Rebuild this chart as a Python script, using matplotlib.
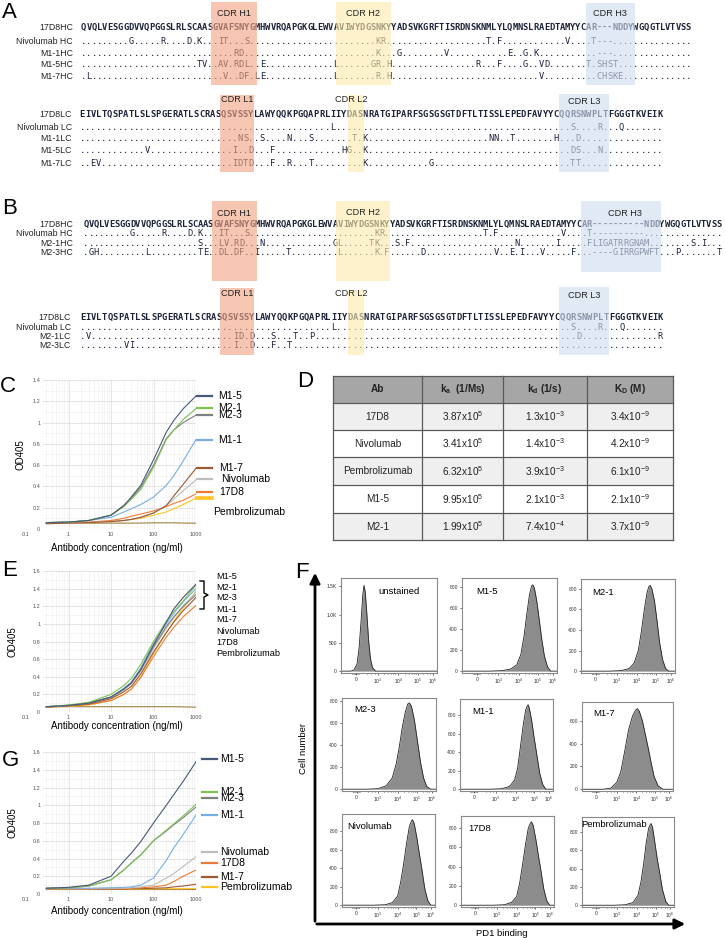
import matplotlib
matplotlib.use("Agg")
import matplotlib.pyplot as plt
from matplotlib.patches import Rectangle
from matplotlib.lines import Line2D
import numpy as np

plt.rcParams['font.family'] = ['Liberation Sans', 'DejaVu Sans']
plt.rcParams['mathtext.fontset'] = 'custom'
plt.rcParams['mathtext.rm'] = 'Liberation Sans'
plt.rcParams['mathtext.it'] = 'Liberation Sans:italic'
plt.rcParams['mathtext.bf'] = 'Liberation Sans:bold'

# ---- data: sequences ------------------------------------------------------
HC_17D8 = ("QVQLVESGGDVVQPGGSLRLSCAASGVAFSNYGMHWVRQAPGKGLEWVAVIWYDGSNKYY"
           "ADSVKGRFTISRDNSKNMLYLQMNSLRAEDTAMYYCAR---NDDYWGQGTLVTVSS")
HC_17D8_B = HC_17D8.replace("AR---", "AR----------")
LC_17D8 = ("EIVLTQSPATLSLSPGERATLSCRASQSVSSYLAWYQQKPGQAPRLIIYDASNRATGIPA"
           "RFSGSGSGTDFTLTISSLEPEDFAVYYCQQRSNWPLTFGGGTKVEIK")

# substitutions vs 17D8: {position: letters}
A_HC = [("Nivolumab HC", {9: "G", 15: "R", 20: "D", 22: "K", 26: "IT", 31: "S", 56: "KR",
                          77: "T", 79: "F", 92: "V", 97: "T---"}),
        ("M1-1HC", {29: "RD", 56: "K", 60: "G", 69: "V", 81: "E", 84: "G", 86: "K", 98: "---"}),
        ("M1-5HC", {22: "TV", 26: "AV", 29: "RDL", 34: "E", 48: "L", 55: "GR", 58: "H", 75: "R",
                    79: "F", 84: "G", 87: "VD", 96: "T", 98: "SHST"}),
        ("M1-7HC", {1: "L", 27: "V", 30: "DF", 33: "LE", 48: "L", 56: "R", 58: "H", 87: "V",
                    98: "CHSKE"})]
A_LC = [("Nivolumab LC", {46: "L", 90: "S", 95: "R", 99: "Q"}),
        ("M1-1LC", {29: "NS", 33: "S", 38: "N", 42: "S", 50: "T", 52: "K", 75: "NN", 79: "T",
                    87: "H", 91: "D"}),
        ("M1-5LC", {12: "V", 28: "I", 31: "D", 35: "F", 48: "HG", 52: "K", 90: "DS", 95: "N"}),
        ("M1-7LC", {2: "EV", 28: "IDTD", 35: "F", 38: "R", 42: "T", 52: "K", 64: "G", 90: "TT"})]
B_HC = [("Nivolumab HC", {9: "G", 15: "R", 20: "D", 22: "K", 26: "IT", 31: "S", 56: "KR",
                          77: "T", 79: "F", 92: "V", 97: "T----------"}),
        ("M2-1HC", {22: "S", 26: "LV", 29: "RD", 34: "N", 48: "GL", 55: "TK", 60: "S", 62: "F",
                    83: "N", 91: "I", 97: "FLIGATRRGNAM", 117: "S", 119: "I"}),
        ("M2-3HC", {1: "GH", 12: "L", 22: "TE", 26: "DL", 29: "DF", 33: "I", 39: "T", 49: "L",
                    56: "K", 58: "F", 65: "D", 79: "V", 82: "E", 84: "I", 88: "V", 94: "F",
                    98: "----GIRRGPWFT", 114: "P", 122: "T"})]
B_LC = [("Nivolumab LC", {46: "L", 90: "S", 95: "R", 99: "Q"}),
        ("M2-1LC", {1: "V", 28: "ID", 31: "D", 35: "S", 39: "T", 42: "P", 91: "D", 106: "R"}),
        ("M2-3LC", {8: "VI", 28: "I", 31: "D", 35: "F", 38: "T"})]

# ---- data: ELISA curves (OD405 vs ng/ml) ---------------------------------
CONC = [0.3, 1, 3, 10, 20, 30, 50, 100, 200, 300, 500, 1000]
C_OD = {
    "M1-5":          [0.06, 0.065, 0.08, 0.13, 0.22, 0.30, 0.41, 0.65, 0.91, 1.02, 1.13, 1.25],
    "M2-1":          [0.06, 0.065, 0.08, 0.13, 0.21, 0.28, 0.37, 0.58, 0.84, 0.93, 1.03, 1.13],
    "M2-3":          [0.06, 0.065, 0.08, 0.13, 0.22, 0.29, 0.39, 0.60, 0.85, 0.93, 1.00, 1.07],
    "M1-1":          [0.06, 0.065, 0.08, 0.11, 0.16, 0.19, 0.23, 0.30, 0.41, 0.50, 0.64, 0.84],
    "M1-7":          [0.05, 0.055, 0.06, 0.07, 0.08, 0.09, 0.11, 0.15, 0.22, 0.31, 0.42, 0.57],
    "Nivolumab":     [0.05, 0.055, 0.06, 0.07, 0.08, 0.09, 0.11, 0.15, 0.22, 0.28, 0.36, 0.46],
    "17D8":          [0.055, 0.06, 0.065, 0.08, 0.10, 0.12, 0.14, 0.17, 0.21, 0.24, 0.27, 0.33],
    "Pembrolizumab": [0.05, 0.055, 0.06, 0.07, 0.08, 0.09, 0.10, 0.13, 0.16, 0.19, 0.23, 0.29],
}
C_CTRL = [0.055, 0.055, 0.055, 0.055, 0.055, 0.055, 0.056, 0.058, 0.058, 0.058, 0.056, 0.055]
E_OD = {
    "M1-5":          [0.06, 0.075, 0.10, 0.17, 0.26, 0.33, 0.48, 0.76, 1.02, 1.17, 1.30, 1.45],
    "M2-1":          [0.06, 0.08, 0.11, 0.20, 0.30, 0.38, 0.54, 0.80, 1.03, 1.14, 1.26, 1.44],
    "M2-3":          [0.06, 0.075, 0.10, 0.17, 0.26, 0.33, 0.48, 0.74, 0.97, 1.08, 1.20, 1.33],
    "M1-1":          [0.06, 0.075, 0.10, 0.17, 0.27, 0.34, 0.50, 0.78, 1.00, 1.12, 1.25, 1.40],
    "M1-7":          [0.055, 0.07, 0.09, 0.15, 0.23, 0.29, 0.43, 0.68, 0.90, 1.02, 1.15, 1.30],
    "Nivolumab":     [0.06, 0.075, 0.10, 0.16, 0.25, 0.32, 0.46, 0.72, 0.95, 1.07, 1.20, 1.36],
    "17D8":          [0.055, 0.07, 0.085, 0.13, 0.20, 0.26, 0.39, 0.63, 0.85, 0.96, 1.08, 1.21],
    "Pembrolizumab": [0.055, 0.065, 0.08, 0.13, 0.20, 0.26, 0.40, 0.66, 0.90, 1.03, 1.18, 1.37],
}
E_CTRL = [0.06, 0.06, 0.06, 0.06, 0.06, 0.06, 0.06, 0.06, 0.06, 0.06, 0.058, 0.055]
G_OD = {
    "M1-5":          [0.065, 0.075, 0.10, 0.20, 0.37, 0.46, 0.59, 0.80, 1.00, 1.12, 1.27, 1.49],
    "M2-1":          [0.065, 0.07, 0.09, 0.16, 0.27, 0.35, 0.44, 0.60, 0.72, 0.79, 0.88, 1.01],
    "M2-3":          [0.065, 0.07, 0.09, 0.16, 0.27, 0.35, 0.44, 0.60, 0.71, 0.78, 0.86, 0.98],
    "M1-1":          [0.06, 0.065, 0.065, 0.07, 0.075, 0.08, 0.10, 0.18, 0.38, 0.52, 0.67, 0.89],
    "Nivolumab":     [0.06, 0.06, 0.06, 0.065, 0.065, 0.07, 0.08, 0.10, 0.18, 0.23, 0.31, 0.42],
    "17D8":          [0.055, 0.055, 0.055, 0.06, 0.06, 0.065, 0.07, 0.08, 0.10, 0.14, 0.20, 0.27],
    "M1-7":          [0.055, 0.055, 0.055, 0.055, 0.055, 0.06, 0.06, 0.065, 0.07, 0.08, 0.09, 0.11],
    "Pembrolizumab": [0.055, 0.055, 0.055, 0.055, 0.055, 0.055, 0.055, 0.058, 0.06, 0.06, 0.06, 0.062],
}
G_CTRL = [0.055, 0.055, 0.055, 0.055, 0.055, 0.055, 0.055, 0.055, 0.055, 0.055, 0.055, 0.055]

COLORS = {"M1-5": "#4a5877", "M2-1": "#7cc255", "M2-3": "#7f7f7f", "M1-1": "#79aee3",
          "M1-7": "#9c5a34", "Nivolumab": "#bdbdbd", "17D8": "#ee7b35",
          "Pembrolizumab": "#ffc326"}
CTRL_COLOR = "#a08040"

# ---- data: kinetics table ------------------------------------------------
TABLE_HEAD = ["Ab", r"k$_\mathbf{a}$  (1/Ms)", r"k$_\mathbf{d}$ (1/s)", r"K$_\mathbf{D}$ (M)"]
TABLE_AB = ["17D8", "Nivolumab", "Pembrolizumab", "M1-5", "M2-1"]
TABLE_KA = ["3.87x10$^{5}$", "3.41x10$^{5}$", "6.32x10$^{5}$", "9.95x10$^{5}$", "1.99x10$^{5}$"]
TABLE_KD = ["1.3x10$^{-3}$", "1.4x10$^{-3}$", "3.9x10$^{-3}$", "2.1x10$^{-3}$", "7.4x10$^{-4}$"]
TABLE_KDM = ["3.4x10$^{-9}$", "4.2x10$^{-9}$", "6.1x10$^{-9}$", "2.1x10$^{-9}$", "3.7x10$^{-9}$"]

# ---- data: flow histograms (x in log10 decades, counts) -------------------
FLOW_NAMES = ["unstained", "M1-5", "M2-1", "M2-3", "M1-1", "M1-7",
              "Nivolumab", "17D8", "Pembrolizumab"]
FLOW_X = [
    [1.7, 1.85, 2.0, 2.1, 2.2, 2.28, 2.34, 2.4, 2.48, 2.56, 2.65, 2.75, 2.9],
    [2.6, 3.2, 3.6, 3.9, 4.1, 4.25, 4.4, 4.52, 4.62, 4.68, 4.76, 4.88, 5.0, 5.12, 5.25, 5.4, 5.55],
    [2.6, 3.2, 3.6, 3.85, 4.05, 4.2, 4.35, 4.48, 4.57, 4.63, 4.72, 4.85, 4.98, 5.1, 5.25, 5.4, 5.55],
    [2.5, 3.0, 3.4, 3.7, 3.9, 4.05, 4.2, 4.35, 4.47, 4.55, 4.65, 4.8, 4.95, 5.1, 5.25, 5.4, 5.6],
    [2.7, 3.3, 3.7, 3.95, 4.1, 4.25, 4.38, 4.5, 4.57, 4.62, 4.68, 4.8, 4.92, 5.05, 5.2, 5.35, 5.5],
    [2.3, 2.7, 3.0, 3.2, 3.4, 3.6, 3.8, 3.95, 4.05, 4.15, 4.3, 4.45, 4.6, 4.75, 4.9, 5.1, 5.35],
    [2.8, 3.4, 3.75, 4.0, 4.15, 4.3, 4.45, 4.58, 4.68, 4.74, 4.82, 4.95, 5.08, 5.2, 5.35, 5.5, 5.65],
    [2.8, 3.4, 3.75, 4.0, 4.15, 4.3, 4.45, 4.58, 4.68, 4.74, 4.82, 4.95, 5.08, 5.2, 5.35, 5.5, 5.65],
    [2.8, 3.4, 3.8, 4.05, 4.2, 4.33, 4.46, 4.58, 4.66, 4.71, 4.78, 4.9, 5.02, 5.12, 5.28, 5.45, 5.6],
]
FLOW_N = [
    [0, 20, 120, 400, 900, 1350, 1520, 1400, 1000, 550, 220, 60, 0],
    [0, 5, 20, 60, 160, 330, 560, 730, 810, 822, 790, 660, 480, 300, 140, 40, 0],
    [0, 5, 25, 80, 200, 380, 600, 760, 820, 832, 800, 680, 480, 280, 110, 25, 0],
    [0, 5, 30, 100, 230, 380, 560, 700, 770, 779, 750, 620, 430, 240, 100, 25, 0],
    [0, 5, 30, 100, 230, 480, 700, 860, 900, 916, 880, 740, 560, 380, 170, 50, 0],
    [0, 10, 60, 150, 330, 520, 640, 690, 705, 680, 600, 480, 360, 230, 110, 30, 0],
    [0, 5, 30, 100, 250, 450, 680, 850, 910, 927, 890, 740, 560, 400, 180, 50, 0],
    [0, 5, 30, 90, 230, 430, 640, 800, 850, 864, 830, 690, 520, 370, 170, 45, 0],
    [0, 5, 30, 110, 260, 450, 680, 840, 880, 893, 850, 680, 500, 380, 170, 40, 0],
]
FLOW_YMAX = [1650, 887, 894, 824, 978, 763, 989, 925, 964]
FLOW_YTICKS = [[0, 500, 1000, 1500], [0, 200, 400, 600, 800], [0, 200, 400, 600, 800],
               [0, 200, 400, 600, 800], [0, 200, 400, 600, 800], [0, 200, 400, 600],
               [0, 200, 400, 600, 800], [0, 200, 400, 600, 800], [0, 200, 400, 600, 800]]
FLOW_XTICKS = [1.95, 3.0, 4.0, 4.93, 5.66]
FLOW_XLABELS = ["0", "$10^3$", "$10^4$", "$10^5$", "$10^6$"]

# ---- figure helpers (pixel coords, origin top-left) ----------------------
W, H = 726, 938
fig = plt.figure(figsize=(W / 100, H / 100), dpi=100)


def fx(x):
    return x / W


def fy(y):
    return 1 - y / H


def ftext(x, y, s, **kw):
    return fig.text(fx(x), fy(y), s, **kw)


def fbox(x0, y0, x1, y1, **kw):
    r = Rectangle((fx(x0), fy(y1)), (x1 - x0) / W, (y1 - y0) / H,
                  transform=fig.transFigure, **kw)
    fig.add_artist(r)
    return r


def fline(xs, ys, **kw):
    fig.add_artist(Line2D([fx(x) for x in xs], [fy(y) for y in ys],
                          transform=fig.transFigure, **kw))


def faxes(x0, y0, x1, y1):
    return fig.add_axes([fx(x0), fy(y1), (x1 - x0) / W, (y1 - y0) / H])


def variant(ref, subs):
    s = ["."] * len(ref)
    for pos, txt in subs.items():
        for k, ch in enumerate(txt):
            s[pos + k] = ch
    return "".join(s)


SEQ_COLOR = "#1c2238"
BOX_ALPHA = 0.62
RED_BOX, YEL_BOX, BLU_BOX = "#f1a384", "#fcebad", "#d0ddf0"


def seq_block(ref, ref_name, rows, x0, cw, ys, label_x):
    allrows = [(ref_name, ref)] + [(n, variant(ref, s)) for n, s in rows]
    for k, ((name, s), y) in enumerate(zip(allrows, ys)):
        ftext(label_x, y + 3, name, ha="right", va="baseline", fontsize=6.3, color="#222222")
        for i, ch in enumerate(s):
            ftext(x0 + (i + 0.5) * cw, y + 3.2, ch, ha="center", va="baseline",
                  family="DejaVu Sans Mono", fontsize=6.3, color=SEQ_COLOR,
                  weight="bold" if k == 0 else "normal")


def cdr(x0, y0, x1, y1, color, label, lx, ly):
    fbox(x0, y0, x1, y1, facecolor=color, edgecolor="none", alpha=BOX_ALPHA, zorder=5)
    ftext(lx, ly, label, ha="center", va="center", fontsize=6.6, color="#222222", zorder=6)


# ---- A ----------------------------------------------------------------------
ftext(2, 13, "A", fontsize=16, va="center")
seq_block(HC_17D8, "17D8HC", A_HC, 81, 5.26, [27, 41, 53, 64, 76], 73)
cdr(211, 2, 257, 85, RED_BOX, "CDR H1", 234, 13)
cdr(336, 2, 391, 85, YEL_BOX, "CDR H2", 363, 13)
cdr(586, 3, 635, 85, BLU_BOX, "CDR H3", 610, 13)
seq_block(LC_17D8, "17D8LC", A_LC, 79.3, 5.45, [114, 127, 138, 150, 163], 72)
cdr(220, 95, 254, 172, RED_BOX, "CDR L1", 237, 100)
cdr(348, 95, 364, 172, YEL_BOX, "CDR L2", 351, 100)
cdr(559, 94, 609, 172, BLU_BOX, "CDR L3", 584, 102)

# ---- B ----------------------------------------------------------------------
ftext(2, 208, "B", fontsize=16, va="center")
seq_block(HC_17D8_B, "17D8HC", B_HC, 83.3, 5.19, [224, 233, 243, 252], 73)
cdr(212, 201, 257, 281, RED_BOX, "CDR H1", 234, 214)
cdr(336, 201, 390, 281, YEL_BOX, "CDR H2", 363, 212)
cdr(581, 201, 661, 272, BLU_BOX, "CDR H3", 625, 213)
seq_block(LC_17D8, "17D8LC", B_LC, 80, 5.45, [317, 327, 336, 345], 71)
cdr(220, 288, 254, 355, RED_BOX, "CDR L1", 237, 294)
cdr(348, 290, 364, 355, YEL_BOX, "CDR L2", 351, 294)
cdr(559, 287, 609, 355, BLU_BOX, "CDR L3", 584, 295)


# ---- C, E, G: ELISA ---------------------------------------------------------
def elisa(box, od, ctrl, ymax, label_y, ylab_x):
    x0, y0, x1, y1 = box
    ax = faxes(x0, y0, x1, y1)
    ax.plot(CONC, ctrl, color=CTRL_COLOR, lw=0.8)
    for name in reversed(list(od)):
        ax.plot(CONC, od[name], color=COLORS[name], lw=0.8)
    ax.set_xscale("log")
    ax.set_xlim(0.25, 1000)
    ax.set_ylim(0, ymax)
    ax.set_xticks([1, 10, 100, 1000])
    ax.set_xticklabels(["1", "10", "100", "1000"])
    yt = np.round(np.arange(0, ymax + 0.001, 0.2), 1)
    ax.set_yticks(yt)
    ax.set_yticklabels([f"{v:g}" for v in yt])
    ax.set_yticks(np.round(np.arange(0, ymax, 0.1), 1), minor=True)
    ax.grid(which="major", color="#d9d9d9", lw=0.5)
    ax.grid(which="minor", color="#eeeeee", lw=0.4)
    ax.set_axisbelow(True)
    for s in ax.spines.values():
        s.set_visible(False)
    ax.tick_params(which="both", length=0, labelsize=4, colors="#555555", pad=2)
    ax.annotate("0.1", xy=(0.1, 0), xycoords=("data", "axes fraction"), xytext=(0, -2),
                textcoords="offset points", ha="center", va="top", fontsize=4,
                color="#555555", annotation_clip=False)
    ftext((x0 + x1) / 2 - 3, label_y, "Antibody concentration (ng/ml)", ha="center",
          va="center", fontsize=7)
    ftext(ylab_x, (y0 + y1) / 2, "OD405", rotation=90, ha="center", va="center", fontsize=7)
    return ax


ftext(0, 386, "C", fontsize=16, va="center")
elisa((43, 380, 196, 529), C_OD, C_CTRL, 1.4, 548, 20)
c_leg = [("M1-5", 396, 218), ("M2-1", 408, 218), ("M2-3", 415, 218), ("M1-1", 440, 218),
         ("M1-7", 468, 219), ("Nivolumab", 479, 221), ("17D8", 492, 219)]
for name, y, tx in c_leg:
    fline([197, 212], [y, y], color=COLORS[name], lw=1.6)
    ftext(tx, y, name, ha="left", va="center", fontsize=7.5)
fline([197, 212], [498, 498], color=COLORS["Pembrolizumab"], lw=2.6)
ftext(213, 512, "Pembrolizumab", ha="left", va="center", fontsize=7.5)

ftext(2, 570, "E", fontsize=16, va="center")
elisa((43, 571, 196, 712), E_OD, E_CTRL, 1.6, 726, 13)
for i, name in enumerate(["M1-5", "M2-1", "M2-3", "M1-1", "M1-7", "Nivolumab", "17D8",
                          "Pembrolizumab"]):
    ftext(216, 576 + 11 * i, name, ha="left", va="center", fontsize=6.6)
fline([200, 204, 204, 208, 204, 204, 200], [581, 581, 593, 595, 597, 609, 609],
      color="black", lw=1.0)

ftext(2, 760, "G", fontsize=16, va="center")
elisa((43, 752, 196, 894), G_OD, G_CTRL, 1.6, 911, 13)
g_leg = [("M1-5", 759), ("M2-1", 792), ("M2-3", 798), ("M1-1", 815), ("Nivolumab", 852),
         ("17D8", 863), ("M1-7", 877), ("Pembrolizumab", 887)]
for name, y in g_leg:
    fline([202, 217], [y, y], color=COLORS[name], lw=1.6)
    ftext(220, y, name, ha="left", va="center", fontsize=7.5)

# ---- D: table ---------------------------------------------------------------
ftext(297, 381, "D", fontsize=16, va="center")
cols = [333, 422, 503, 587, 673]
rows = [376, 403, 430, 457, 485, 513, 540]
table = [TABLE_HEAD] + [list(r) for r in zip(TABLE_AB, TABLE_KA, TABLE_KD, TABLE_KDM)]
for r in range(len(table)):
    bg = "#a6a6a6" if r == 0 else ("#efefef" if r % 2 == 1 else "white")
    fbox(cols[0], rows[r], cols[-1], rows[r + 1], facecolor=bg, edgecolor="none")
    for c in range(4):
        ftext((cols[c] + cols[c + 1]) / 2, (rows[r] + rows[r + 1]) / 2, table[r][c],
              ha="center", va="center", fontsize=7.2, color="#222222",
              weight="bold" if r == 0 else "normal")
for y in rows:
    fline([cols[0], cols[-1]], [y, y], color="#5a5a5a", lw=0.9)
for x in cols:
    fline([x, x], [rows[0], rows[-1]], color="#5a5a5a", lw=0.9)

# ---- F: flow histograms -----------------------------------------------------
ftext(295, 572, "F", fontsize=16, va="center")
flow_boxes = [(341, 578, 437, 673), (462, 578, 557, 673), (581, 579, 675, 673),
              (342, 698, 436, 791), (460, 699, 553, 791), (582, 702, 673, 791),
              (342, 814, 435, 907), (461, 816, 554, 907), (582, 817, 674, 907)]
flow_lab = [(399, 591), (487, 591), (603, 592), (365, 710), (483, 711), (604, 713),
            (370, 826), (480, 828), (614, 824)]
minor_x = list(np.linspace(1.75, 2.1, 9)) + [2.5, 2.7, 2.85, 3.3, 3.5, 3.65, 3.75, 3.85,
                                             4.3, 4.5, 4.65, 4.75, 4.85, 5.2, 5.4, 5.5]
for k in range(9):
    x0, y0, x1, y1 = flow_boxes[k]
    ax = faxes(x0, y0, x1, y1)
    xs = [1.23] + FLOW_X[k] + [5.86]
    ns = [0] + FLOW_N[k] + [0]
    ax.fill_between(xs, ns, 0, color="#8c8c8c", lw=0)
    ax.plot(xs, ns, color="#222222", lw=0.6)
    ax.set_xlim(1.23, 5.86)
    ax.set_ylim(-FLOW_YMAX[k] * 0.02, FLOW_YMAX[k])
    ax.set_xticks(FLOW_XTICKS)
    ax.set_xticklabels(FLOW_XLABELS)
    ax.set_xticks(minor_x, minor=True)
    yt = FLOW_YTICKS[k]
    ax.set_yticks(yt)
    ax.set_yticklabels([("%.1fK" % (v / 1000)) if (k == 0 and v >= 1000) else str(v)
                        for v in yt])
    ax.tick_params(which="both", labelsize=3.6, length=1.5, width=0.5, pad=1.5,
                   colors="#333333")
    ax.tick_params(which="minor", length=1.0)
    for s in ax.spines.values():
        s.set_color("#8a8a8a")
        s.set_linewidth(0.8)
    ftext(*flow_lab[k], FLOW_NAMES[k], ha="center", va="center", fontsize=6.8)

fig.add_artist(matplotlib.patches.FancyArrowPatch(
    (fx(315), fy(924)), (fx(315), fy(570)), transform=fig.transFigure,
    arrowstyle="-|>,head_length=6,head_width=3", lw=2.0, color="black"))
fig.add_artist(matplotlib.patches.FancyArrowPatch(
    (fx(314), fy(924)), (fx(688), fy(924)), transform=fig.transFigure,
    arrowstyle="-|>,head_length=6,head_width=3", lw=2.0, color="black"))
ftext(304, 748, "Cell number", rotation=90, ha="center", va="center", fontsize=6.8)
ftext(502, 933, "PD1 binding", ha="center", va="center", fontsize=6.8)

fig.savefig("out.png", dpi=100)
